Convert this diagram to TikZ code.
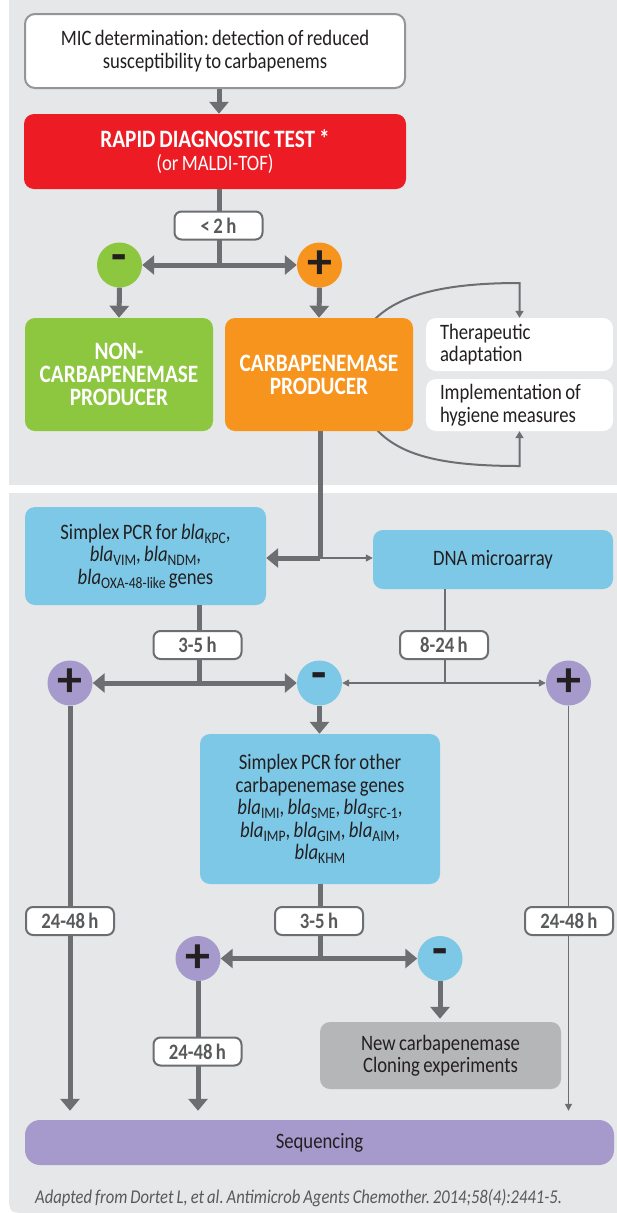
\documentclass[tikz,border=0pt]{standalone}
\usepackage{fontspec}
\setmainfont{Carlito}[FakeStretch=0.85,WordSpace=0.8]
\newfontfamily\signfont{Carlito}
\usetikzlibrary{arrows.meta,calc}
\frenchspacing
\definecolor{bg}{HTML}{E6E7E8}
\definecolor{arr}{HTML}{6D6E71}
\definecolor{micborder}{HTML}{939598}
\definecolor{txt}{HTML}{231F20}
\definecolor{lbltxt}{HTML}{58595B}
\definecolor{cred}{HTML}{ED1C24}
\definecolor{cgreen}{HTML}{8DC63F}
\definecolor{corange}{HTML}{F7941D}
\definecolor{cblue}{HTML}{7CC8E6}
\definecolor{cpurple}{HTML}{A59ACB}
\definecolor{cgray}{HTML}{B5B6B8}
\newcommand{\blas}[1]{\textit{bla}\raisebox{-4pt}{\fontsize{16}{16}\selectfont #1}}
\begin{document}
\begin{tikzpicture}[x=1pt,y=-1pt,
  box/.style={rounded corners=10pt, inner sep=0pt, align=center, text=txt, font=\fontsize{22}{22.5}\selectfont},
  bbox/.style={box, text=white, font=\bfseries\fontsize{25}{23}\selectfont},
  sidebox/.style={box, fill=white, align=flush left, text width=159pt, inner xsep=14pt, minimum width=187pt},
  lbl/.style={draw=arr, line width=2pt, fill=white, rounded corners=7pt, minimum width=88pt, minimum height=28pt, inner sep=0pt, font=\bfseries\fontsize{22}{22}\selectfont, text=lbltxt},
  circ/.style={circle, minimum size=45pt, inner sep=0pt, font=\signfont\bfseries\fontsize{50}{50}\selectfont, text=txt},
  thickarr/.style={draw=arr, line width=5pt, -{Triangle[width=19pt,length=12pt]}},
  thinarr/.style={draw=arr, line width=1.3pt, -{Triangle[width=7pt,length=7pt]}},
  curvarr/.style={draw=arr, line width=2pt, -{Triangle[width=8pt,length=7pt]}},
  thickln/.style={draw=arr, line width=5pt},
  thinln/.style={draw=arr, line width=1.3pt}]
\useasboundingbox (0,0) rectangle (617,1213);
% panels
\fill[bg] (9,0) rectangle (617,485);
\fill[bg] (9,493) -- (617,493) -- (617,1213) -- (29,1213) .. controls (9,1213) .. (9,1193) -- cycle;

% axes
\coordinate (ax1) at (219,0);
\coordinate (j0) at (219,265);

% nodes (top)
\node[box, fill=white, draw=micborder, line width=2pt, minimum width=380pt, minimum height=74pt] (mic) at (215,51)
  {MIC determination: detection of reduced\\susceptibility to carbapenems};
\node[bbox, fill=cred, minimum width=382pt, minimum height=75pt] (rdt) at (215,151.5)
  {RAPID DIAGNOSTIC TEST *\\{\mdseries\fontsize{22}{22}\selectfont (or MALDI-TOF)}};
\node[circ, fill=cgreen] (neg0) at (119.5,265) {\raisebox{3pt}{-}};
\node[circ, fill=corange] (pos0) at (319.5,265) {+};

% side boxes and curved connectors (drawn under the producer box)
\node[sidebox, minimum height=53pt] (ther) at (519.5,344.5) {Therapeutic\\adaptation};
\node[sidebox, minimum height=52pt] (hyg) at (519.5,405) {Implementation of\\hygiene measures};
\draw[curvarr] (374,320) .. controls (398,296) and (440,283) .. (ther.north |- 0,283) -- (ther.north);
\draw[curvarr] (376,429) .. controls (400,455) and (440,466) .. (hyg.south |- 0,466) -- (hyg.south);

\node[bbox, fill=cgreen, minimum width=188pt, minimum height=113pt] (non) at (119,374.5)
  {NON-\\CARBAPENEMASE\\PRODUCER};
\node[bbox, fill=corange, minimum width=188pt, minimum height=113pt] (carb) at (319,374.5)
  {CARBAPENEMASE\\PRODUCER};

\draw[thickarr] (mic.south -| ax1) -- (rdt.north -| ax1);
\draw[thickln] (rdt.south -| ax1) -- (j0);
\draw[thickarr] (j0) -- (neg0.east);
\draw[thickarr] (j0) -- (pos0.west);
\node[lbl] (t0) at (218.5,225.5) {< 2 h};
\draw[thickarr] (neg0.south) -- (non.north);
\draw[thickarr] (pos0.south) -- (carb.north);

% bottom panel
\node[box, fill=cblue, minimum width=241pt, minimum height=98pt] (pcr1) at (145.5,556)
  {Simplex PCR for \blas{KPC},\\\blas{VIM}, \blas{NDM},\\\blas{OXA-48-like} genes};
\node[box, fill=cblue, minimum width=240pt, minimum height=59pt] (dna) at (493,559.5) {DNA microarray};
\coordinate (j1) at (320,558);
\draw[thickln] (carb.south -| j1) -- (j1);
\draw[thickarr] (j1) -- (j1 -| pcr1.east);
\draw[thinarr] (j1) -- (j1 -| dna.west);

\node[circ, fill=cpurple] (pos1) at (70,683) {+};
\node[circ, fill=cblue] (neg1) at (319.5,683) {\raisebox{3pt}{-}};
\node[circ, fill=cpurple] (pos2) at (568.5,683) {+};
\coordinate (j2) at (199,683);
\coordinate (j3) at (445,683);
\draw[thickln] (pcr1.south -| j2) -- (j2);
\draw[thickarr] (j2) -- (pos1.east);
\draw[thickarr] (j2) -- (neg1.west);
\draw[thinln] (dna.south -| j3) -- (j3);
\draw[thinarr] (j3) -- (neg1.east);
\draw[thinarr] (j3) -- (pos2.west);
\node[lbl] (t1) at (197.5,645) {3-5 h};
\node[lbl] (t2) at (444,645) {8-24 h};

\node[box, fill=cblue, minimum width=240pt, minimum height=150pt] (pcr2) at (320,809)
  {Simplex PCR for other\\carbapenemase genes\\\blas{IMI}, \blas{SME}, \blas{SFC-1},\\\blas{IMP}, \blas{GIM}, \blas{AIM},\\\blas{KHM}};
\draw[thickarr] (neg1.south) -- (neg1.south |- pcr2.north);

\node[circ, fill=cpurple] (pos3) at (198,958.5) {+};
\node[circ, fill=cblue] (neg3) at (440,958.5) {\raisebox{3pt}{-}};
\coordinate (j4) at (320,958.5);
\draw[thickln] (pcr2.south -| j4) -- (j4);
\draw[thickarr] (j4) -- (pos3.east);
\draw[thickarr] (j4) -- (neg3.west);
\node[lbl] (t3) at (319,921) {3-5 h};

\node[box, fill=cgray, minimum width=241pt, minimum height=67pt] (clon) at (440.5,1055.5)
  {New carbapenemase\\Cloning experiments};
\draw[thickarr, shorten >=3pt] (neg3.south) -- (neg3.south |- clon.north);

\node[box, fill=cpurple, rounded corners=15pt, minimum width=589pt, minimum height=45pt] (seq) at (319.5,1142.5) {Sequencing};
\draw[thickarr, shorten >=9pt] (pos1.south) -- (pos1.south |- seq.north);
\draw[thickarr, shorten >=9pt] (pos3.south) -- (pos3.south |- seq.north);
\draw[thinarr, shorten >=9pt] (pos2.south) -- (pos2.south |- seq.north);
\node[lbl] (t4) at (70,921) {24-48 h};
\node[lbl] (t5) at (569,921) {24-48 h};
\node[lbl] (t6) at (197.5,1051.5) {24-48 h};

\node[anchor=west, inner sep=0pt, text=lbltxt, font=\itshape\fontsize{19.5}{19.5}\selectfont] (foot) at (35,1198)
  {Adapted from Dortet L, et al. Antimicrob Agents Chemother. 2014;58(4):2441-5.};
\end{tikzpicture}
\end{document}
